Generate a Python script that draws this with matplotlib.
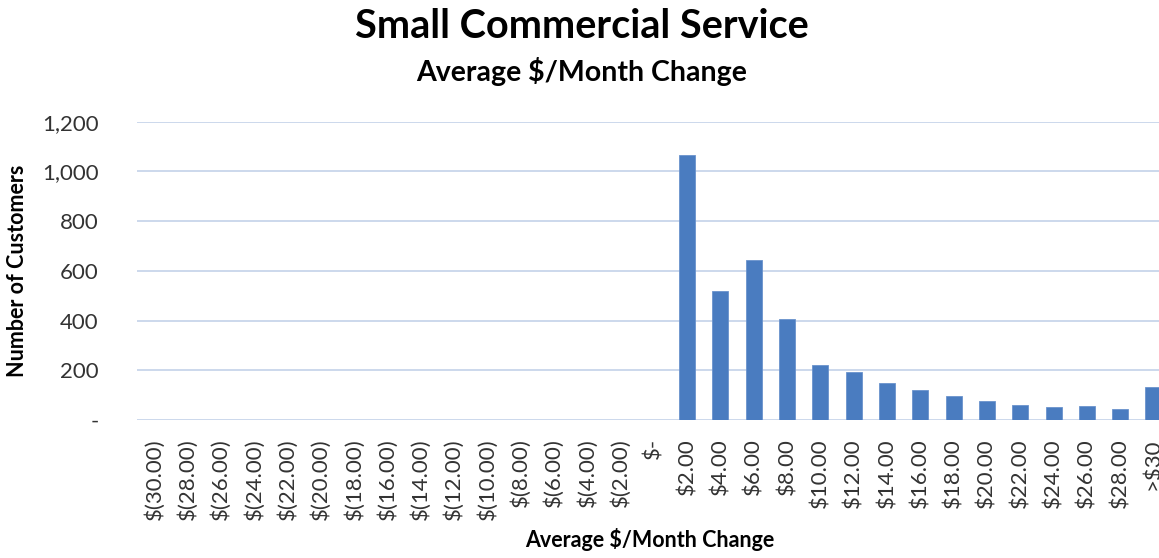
import matplotlib
matplotlib.use("Agg")
import matplotlib.pyplot as plt
import numpy as np

plt.rcParams['font.family'] = ['Lato', 'DejaVu Sans']

# bins of average monthly change
categories = ['$(30.00)', '$(28.00)', '$(26.00)', '$(24.00)', '$(22.00)', '$(20.00)',
              '$(18.00)', '$(16.00)', '$(14.00)', '$(12.00)', '$(10.00)', '$(8.00)',
              '$(6.00)', '$(4.00)', '$(2.00)', '$-',
              '$2.00', '$4.00', '$6.00', '$8.00', '$10.00', '$12.00', '$14.00',
              '$16.00', '$18.00', '$20.00', '$22.00', '$24.00', '$26.00', '$28.00', '>$30']
customers = [0] * 16 + [1067, 518, 643, 405, 222, 194, 147, 122, 96, 75, 60, 51, 55, 44, 131]

y_ticks = [0, 200, 400, 600, 800, 1000, 1200]
y_labels = ['-', '200', '400', '600', '800', '1,000', '1,200']

fig = plt.figure(figsize=(11.59, 5.58), dpi=100)
# axes runs slightly past the right edge, so the last bar is clipped
ax = fig.add_axes([0.1186, 0.2473, 0.891, 0.5347])

x = np.arange(len(categories))
ax.bar(x, customers, width=0.48, color='#4a7cc0', edgecolor='#6a93cc',
       linewidth=0.6, zorder=3)

ax.set_xlim(-0.5, len(categories) - 0.5)
ax.set_ylim(0, 1200)
ax.set_yticks(y_ticks)
ax.set_yticklabels(y_labels, fontsize=16, color='#333333')
ax.set_xticks(x)
ax.set_xticklabels(categories, rotation=90, fontsize=16, color='#333333', va='top')
ax.tick_params(axis='both', length=0)
ax.tick_params(axis='y', pad=28)
ax.tick_params(axis='x', pad=13)

ax.grid(axis='y', color='#c8d5ea', linewidth=1.3, zorder=0)
for s in ax.spines.values():
    s.set_visible(False)

ax.set_ylabel('Number of Customers', fontsize=15.5, fontweight='bold', labelpad=10)
fig.text(0.561, 0.012, 'Average $/Month Change', ha='center', va='bottom',
         fontsize=15.5, fontweight='bold')

fig.text(0.502, 0.952, 'Small Commercial Service', ha='center', va='center',
         fontsize=28.5, fontweight='bold')
fig.text(0.502, 0.871, 'Average $/Month Change', ha='center', va='center',
         fontsize=20.5, fontweight='bold')

fig.savefig('out.png', dpi=100)
